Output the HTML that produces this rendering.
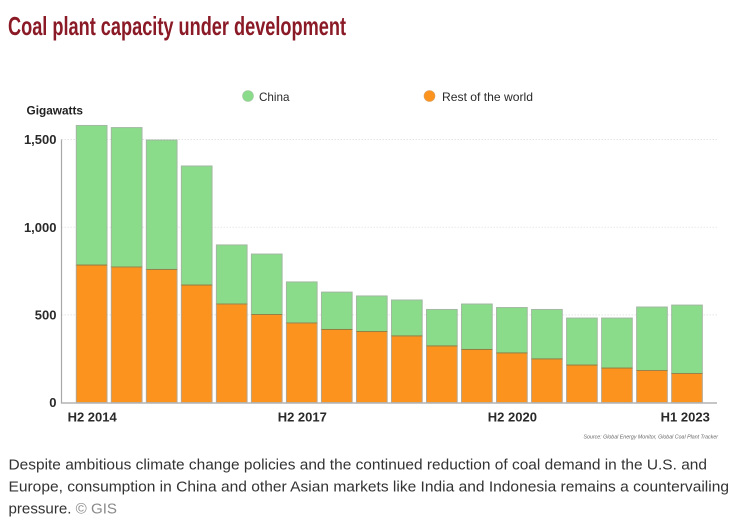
<!DOCTYPE html>
<html>
<head>
<meta charset="utf-8">
<title>Coal plant capacity under development</title>
<style>
html,body{margin:0;padding:0;background:#fff;width:738px;height:524px;overflow:hidden}
svg{display:block;font-family:"Liberation Sans",sans-serif}
</style>
</head>
<body>
<svg id="chart" width="738" height="524" viewBox="0 0 738 524" xmlns="http://www.w3.org/2000/svg">
  <text x="8" y="35" font-size="26" font-weight="bold" fill="#8b1a27" textLength="338" lengthAdjust="spacingAndGlyphs">Coal plant capacity under development</text>
  <g>
    <circle cx="248" cy="96" r="5.5" fill="#8adb8a" stroke="#a8c8a8" stroke-width="0.6"/>
    <text x="259" y="101" font-size="12" fill="#2a2a2a" textLength="30.5" lengthAdjust="spacingAndGlyphs">China</text>
    <circle cx="429.5" cy="96" r="5.5" fill="#fd931f" stroke="#d8a060" stroke-width="0.6"/>
    <text x="442" y="101" font-size="12" fill="#2a2a2a" textLength="91" lengthAdjust="spacingAndGlyphs">Rest of the world</text>
  </g>
  <text x="26.5" y="114.5" font-size="12" font-weight="bold" fill="#222" textLength="56.5" lengthAdjust="spacingAndGlyphs">Gigawatts</text>
  <g id="grid"></g>
  <g id="bars"></g>
  <g id="axes"></g>
  <text x="583.5" y="438.5" font-size="5" font-style="italic" fill="#666" textLength="134.5" lengthAdjust="spacingAndGlyphs">Source: Global Energy Monitor, Global Coal Plant Tracker</text>
  <g font-size="15" fill="#333">
    <text x="8.5" y="469.5" textLength="698.5" lengthAdjust="spacingAndGlyphs">Despite ambitious climate change policies and the continued reduction of coal demand in the U.S. and</text>
    <text x="8.5" y="491.5" textLength="720.5" lengthAdjust="spacingAndGlyphs">Europe, consumption in China and other Asian markets like India and Indonesia remains a countervailing</text>
    <text x="8.5" y="513.5" textLength="108.5" lengthAdjust="spacingAndGlyphs">pressure. <tspan fill="#8a8a8a">© GIS</tspan></text>
  </g>
</svg>
<script>
const categories = ["H2 2014","H1 2015","H2 2015","H1 2016","H2 2016","H1 2017","H2 2017","H1 2018","H2 2018","H1 2019","H2 2019","H1 2020","H2 2020","H1 2021","H2 2021","H1 2022","H2 2022","H1 2023"];
const restOfWorld = [784,773,759,670,562,502,454,417,405,380,323,303,283,249,214,197,183,166];
const china = [796,795,738,679,337,345,234,213,203,205,208,259,259,282,268,285,362,390];
const yTicks = [0,500,1000,1500];
const yTickLabels = ["0","500","1,000","1,500"];
const xTickLabels = ["H2 2014","H2 2017","H2 2020","H1 2023"];

const NS = "http://www.w3.org/2000/svg";
const plot = {x0: 76.3, step: 35.02, barW: 30.7, yBase: 402.6, scale: 0.1754, axisX: 61.5, right: 717};
function xScale(i){ return plot.x0 + i * plot.step; }
function yScale(v){ return plot.yBase - v * plot.scale; }
function make(tag, attrs, parent){
  const el = document.createElementNS(NS, tag);
  for (const k in attrs) el.setAttribute(k, attrs[k]);
  parent.appendChild(el);
  return el;
}
const gridG = document.getElementById("grid");
const barsG = document.getElementById("bars");
const axesG = document.getElementById("axes");

yTicks.forEach(function(t, i){
  if (t !== 0) {
    const g = make("line", {x1: plot.axisX, x2: plot.right, y1: yScale(t), y2: yScale(t), stroke: "#dcdcdc", "stroke-width": 0.7, "stroke-dasharray": "1.5 1.5"}, gridG);
    
    
  }
  const lab = make("text", {x: 56.5, y: yScale(t) + 4.6, "text-anchor": "end", "font-size": 13, "font-weight": "bold", fill: "#2a2a2a"}, axesG);
  lab.textContent = yTickLabels[i];
  
  
});

categories.forEach(function(c, i){
  const x = xScale(i);
  const total = restOfWorld[i] + china[i];
  const gr = make("rect", {x: x, y: yScale(total), width: plot.barW, height: yScale(restOfWorld[i]) - yScale(total), fill: "#8adb8a", stroke: "#a3b8a3", "stroke-width": 1}, barsG);
  
  
  const or = make("rect", {x: x, y: yScale(restOfWorld[i]), width: plot.barW, height: yScale(0) - yScale(restOfWorld[i]), fill: "#fd931f", stroke: "#b5a58f", "stroke-width": 1}, barsG);
  
  
  const seam = make("line", {x1: x, x2: x + plot.barW, y1: yScale(restOfWorld[i]), y2: yScale(restOfWorld[i]), stroke: "#8f7a35", "stroke-width": 0.8}, barsG);
  
  
  const labelIndex = xTickLabels.indexOf(c);
  if (labelIndex >= 0) {
    const last = i === categories.length - 1;
    const t = make("text", {x: last ? x + plot.barW + 7.5 : x + plot.barW / 2 + 0.5, y: 421.5, "text-anchor": last ? "end" : "middle", "font-size": 13, "font-weight": "bold", fill: "#2a2a2a"}, axesG);
    t.textContent = xTickLabels[labelIndex];
    
    
  }
});

const yAxis = make("line", {x1: plot.axisX, x2: plot.axisX, y1: yScale(1500), y2: yScale(0) + 1, stroke: "#a8a8a8", "stroke-width": 1.2}, axesG);


const xAxis = make("line", {x1: plot.axisX, x2: plot.right, y1: yScale(0) + 0.4, y2: yScale(0) + 0.4, stroke: "#b4b4b4", "stroke-width": 1.6}, axesG);


</script>
</body>
</html>
